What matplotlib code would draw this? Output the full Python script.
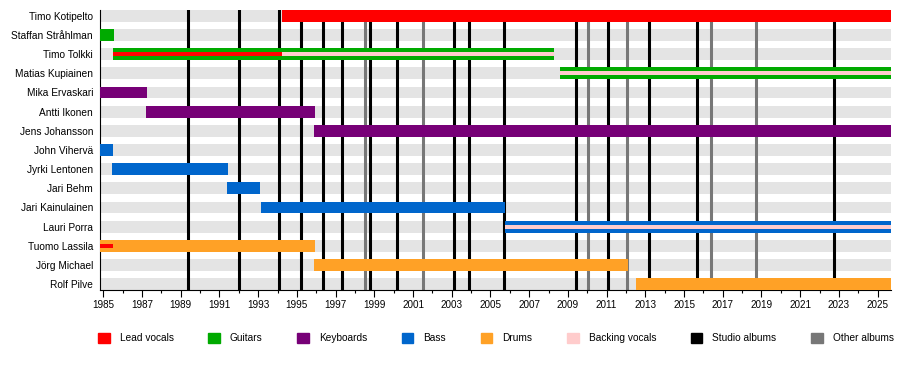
import matplotlib.pyplot as plt
import matplotlib.patches as mpatches

plt.rcParams['font.family'] = ['Liberation Sans', 'DejaVu Sans']

members = ['Timo Kotipelto', 'Staffan Stråhlman', 'Timo Tolkki', 'Matias Kupiainen',
           'Mika Ervaskari', 'Antti Ikonen', 'Jens Johansson', 'John Vihervä',
           'Jyrki Lentonen', 'Jari Behm', 'Jari Kainulainen', 'Lauri Porra',
           'Tuomo Lassila', 'Jörg Michael', 'Rolf Pilve']

start_year = 1984.83
end_year = 2025.69

roles = ['Lead vocals', 'Guitars', 'Keyboards', 'Bass', 'Drums', 'Backing vocals']
role_colors = ['#ff0000', '#00aa00', '#770077', '#0066cc', '#ffa126', '#ffcccc']

# main bars
bar_member = ['Timo Kotipelto', 'Staffan Stråhlman', 'Timo Tolkki', 'Matias Kupiainen',
              'Mika Ervaskari', 'Antti Ikonen', 'Jens Johansson', 'John Vihervä',
              'Jyrki Lentonen', 'Jari Behm', 'Jari Kainulainen', 'Lauri Porra',
              'Tuomo Lassila', 'Jörg Michael', 'Rolf Pilve']
bar_role = ['Lead vocals', 'Guitars', 'Guitars', 'Guitars',
            'Keyboards', 'Keyboards', 'Keyboards', 'Bass',
            'Bass', 'Bass', 'Bass', 'Bass',
            'Drums', 'Drums', 'Drums']
bar_start = [1994.25, start_year, 1985.5, 2008.6,
             start_year, 1987.2, 1995.9, start_year,
             1985.45, 1991.4, 1993.15, 2005.76,
             start_year, 1995.9, 2012.5]
bar_end = [end_year, 1985.57, 2008.3, end_year,
           1987.27, 1995.95, end_year, 1985.5,
           1991.46, 1993.1, 2005.76, end_year,
           1995.95, 2012.1, end_year]

# thin inner stripes (secondary roles)
inner_member = ['Timo Tolkki', 'Timo Tolkki', 'Matias Kupiainen', 'Lauri Porra', 'Tuomo Lassila']
inner_role = ['Lead vocals', 'Backing vocals', 'Backing vocals', 'Backing vocals', 'Lead vocals']
inner_start = [1985.5, 1994.25, 2008.6, 2005.76, start_year]
inner_end = [1994.25, 2008.3, end_year, end_year, 1985.5]

studio_albums = [1989.37, 1992.0, 1994.1, 1995.2, 1996.33, 1997.33, 1998.76, 2000.17,
                 2003.11, 2003.87, 2005.68, 2009.4, 2011.05, 2013.19, 2015.67, 2022.72]
other_albums = [1998.5, 2001.5, 2010.02, 2012.03, 2016.37, 2018.74]

color_of = dict(zip(roles, role_colors))
row_of = {m: i for i, m in enumerate(members)}

fig = plt.figure(figsize=(9, 3.7), dpi=100)
ax = fig.add_axes([0.1111, 0.2162, 0.8789, 0.7568])

bar_h = 0.61
inner_h = 0.21

# grey background rows
ax.barh(range(len(members)), end_year - start_year, left=start_year, height=bar_h,
        color='#e4e4e4', zorder=1)

for x in studio_albums:
    ax.axvline(x, color='black', lw=2.2, zorder=2)
for x in other_albums:
    ax.axvline(x, color='#777777', lw=2.2, zorder=2)

for m, r, s, e in zip(bar_member, bar_role, bar_start, bar_end):
    ax.barh(row_of[m], e - s, left=s, height=bar_h, color=color_of[r], zorder=3)
for m, r, s, e in zip(inner_member, inner_role, inner_start, inner_end):
    ax.barh(row_of[m], e - s, left=s, height=inner_h, color=color_of[r], zorder=4)

ax.set_xlim(start_year, end_year)
ax.set_ylim(len(members) - 1 + bar_h / 2, -bar_h / 2)
ax.set_yticks(range(len(members)))
ax.set_yticklabels(members, fontsize=7.3)
ax.tick_params(axis='y', length=0, pad=5)
ax.set_xticks(range(1985, 2026, 2))
ax.set_xticks(range(1985, 2026), minor=True)
ax.tick_params(axis='x', which='major', length=5, width=0.8, labelsize=7.1, pad=2)
ax.tick_params(axis='x', which='minor', length=2.5, width=0.8)
for s in ['top', 'right']:
    ax.spines[s].set_visible(False)
ax.spines['left'].set_linewidth(0.8)
ax.spines['bottom'].set_linewidth(0.8)

handles = [mpatches.Patch(color=c, label=r) for r, c in zip(roles, role_colors)]
handles.append(mpatches.Patch(color='black', label='Studio albums'))
handles.append(mpatches.Patch(color='#777777', label='Other albums'))
fig.legend(handles=handles, loc='center', bbox_to_anchor=(0.551, 0.086), ncol=8,
           frameon=False, fontsize=7.3, handlelength=1.15, handleheight=1.2,
           handletextpad=1.0, columnspacing=3.4)

fig.savefig('out.png', dpi=100)
